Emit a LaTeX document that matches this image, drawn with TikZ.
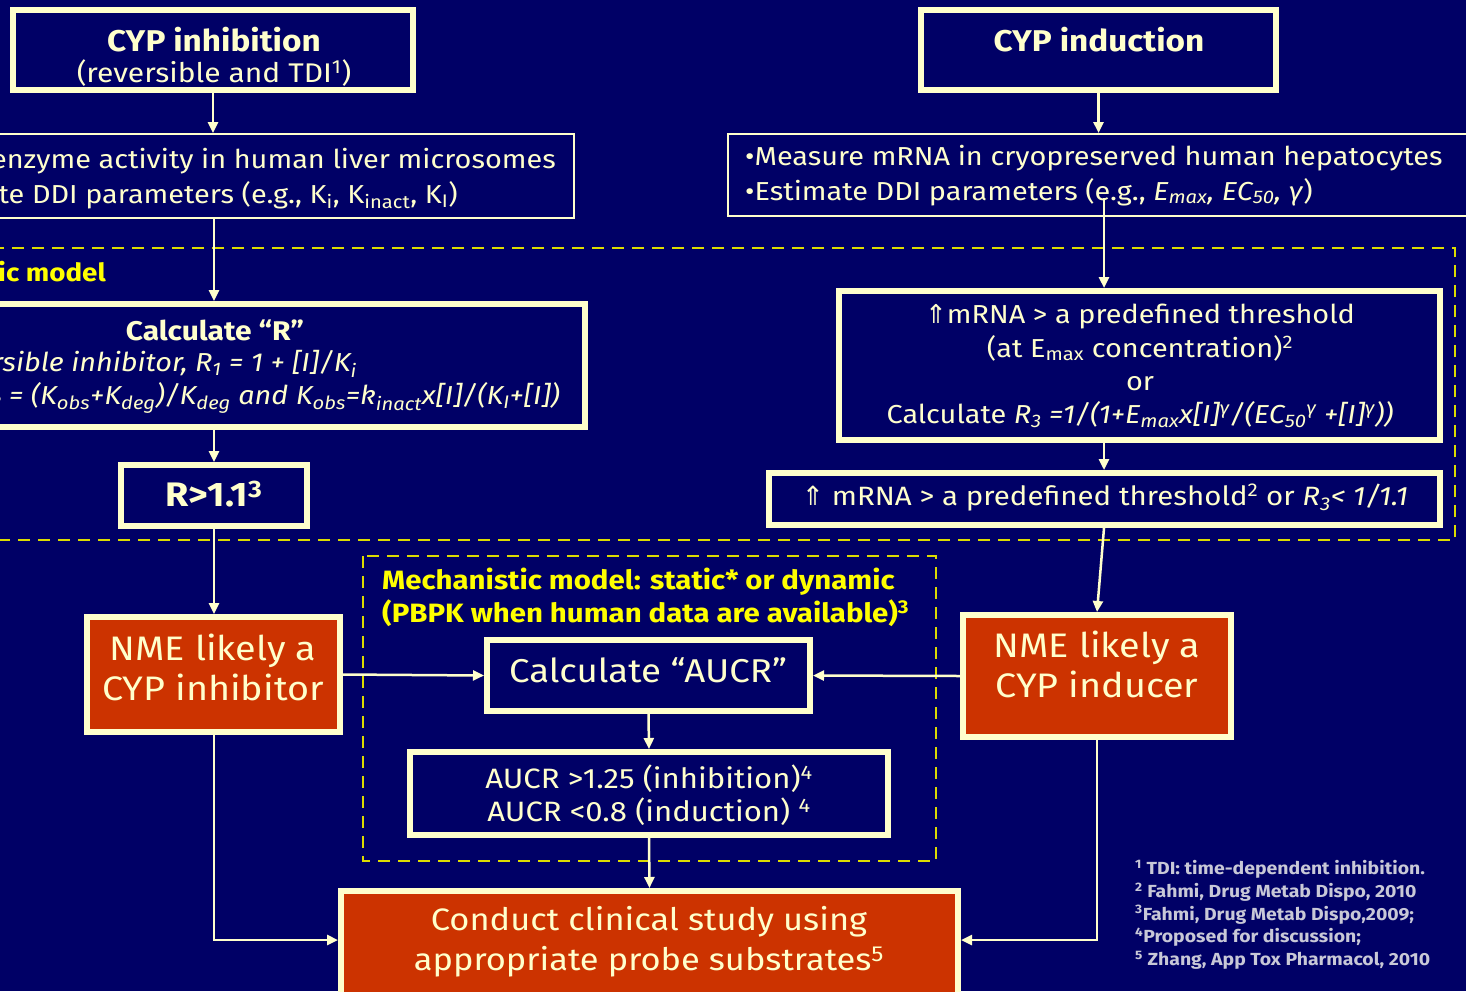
\documentclass[tikz,border=0pt]{standalone}
\usepackage{fontspec}
\setmainfont[FakeStretch=1.11]{Fira Sans}
\newfontfamily\symfont{DejaVu Sans}
\usetikzlibrary{arrows.meta}
\definecolor{navy}{RGB}{0,0,102}
\definecolor{cream}{RGB}{255,255,204}
\definecolor{brick}{RGB}{204,51,0}
\definecolor{dashyel}{RGB}{220,220,0}
\definecolor{txtyel}{RGB}{255,255,0}
\definecolor{fngray}{RGB}{200,200,215}
\newcommand\myfs[2]{\fontsize{#1}{#2}\selectfont}
\tikzset{
  thickbox/.style={draw=cream, line width=6pt, fill=navy, inner sep=0pt},
  thinbox/.style={draw=cream, line width=2pt, fill=navy, inner sep=0pt},
  redbox/.style={draw=cream, line width=6pt, fill=brick, inner sep=0pt},
  conn/.style={draw=cream, line width=2.5pt, -{Triangle[length=11pt,width=10pt]}},
  txt/.style={text=cream, inner sep=0pt, align=center},
  yeltxt/.style={text=txtyel, inner sep=0pt, align=left},
  dashframe/.style={draw=dashyel, line width=2pt, dash pattern=on 12pt off 8pt},
}
\begin{document}
\begin{tikzpicture}[x=1pt,y=-1pt]
\fill[navy] (0,0) rectangle (1466,991);
\useasboundingbox (0,0) rectangle (1466,991);
\clip (0,0) rectangle (1466,991);

% dashed frames
\draw[dashframe] (-50,248) rectangle (1455,540);
\draw[dashframe] (363,556) rectangle (936,861);

% boxes
\node[thickbox, minimum width=400pt, minimum height=80pt] (inh) at (213,50) {};
\node[thickbox, minimum width=355pt, minimum height=80pt] (ind) at (1098.5,50) {};
\node[thinbox, minimum width=671pt, minimum height=84pt] (lmeas) at (238.5,176) {};
\node[thinbox, minimum width=832pt, minimum height=82pt] (rmeas) at (1144,175) {};
\node[thickbox, minimum width=735pt, minimum height=123pt] (calcR) at (217.5,365.5) {};
\node[thickbox, minimum width=186pt, minimum height=61pt] (r11) at (214,495.5) {};
\node[thickbox, minimum width=601pt, minimum height=149pt] (mrna) at (1139.5,365.5) {};
\node[thickbox, minimum width=671pt, minimum height=52pt] (thr) at (1104.5,499) {};
\node[redbox, minimum width=253pt, minimum height=115pt] (nmeinh) at (213.5,674.5) {};
\node[thickbox, minimum width=323pt, minimum height=71pt] (aucr) at (648.5,675.5) {};
\node[thickbox, minimum width=478pt, minimum height=83pt] (aucrbox) at (649,793.5) {};
\node[redbox, minimum width=268pt, minimum height=122pt] (nmeind) at (1097,676) {};
\node[redbox, minimum width=617pt, minimum height=109pt] (conduct) at (649.5,945.5) {};

% texts
\node[txt, font=\bfseries\myfs{30}{34}] (inhT) at (214,40) {CYP inhibition};
\node[txt, font=\myfs{27}{30}] (inhS) at (214,73) {(reversible and TDI\textsuperscript{1})};
\node[txt, font=\bfseries\myfs{30}{34}] (indT) at (1099,40) {CYP induction};

\node[txt, anchor=east, font=\myfs{26}{30}] (lm1) at (556,161) {•Measure enzyme activity in human liver microsomes};
\node[txt, anchor=east, font=\myfs{26}{30}] (lm2) at (458,195) {•Estimate DDI parameters (e.g., K\textsubscript{i}, K\textsubscript{inact}, K\textsubscript{I})};
\node[txt, anchor=west, font=\myfs{26}{30}] (rm1) at (745,158) {•Measure mRNA in cryopreserved human hepatocytes};
\node[txt, anchor=west, font=\myfs{26}{30}] (rm2) at (745,192) {•Estimate DDI parameters (e.g., \textit{E\textsubscript{max}, EC\textsubscript{50}, γ})};

\node[yeltxt, anchor=east, font=\bfseries\myfs{25}{28}] (basic) at (106,272) {Basic model};

\node[txt, font=\bfseries\myfs{27}{30}] (rT) at (215,330) {Calculate “R”};
\node[txt, anchor=east, font=\itshape\myfs{26}{30}] (r2) at (357,364) {For reversible inhibitor, R\textsubscript{1} = 1 + [I]/K\textsubscript{i}};
\node[txt, anchor=east, font=\itshape\myfs{26}{30}] (r3) at (560,398) {For TDI, R\textsubscript{2} = (K\textsubscript{obs}+K\textsubscript{deg})/K\textsubscript{deg} and K\textsubscript{obs}=k\textsubscript{inact}x[I]/(K\textsubscript{I}+[I])};

\node[txt, font=\bfseries\myfs{34}{36}] (r11T) at (214,494) {R>1.1\textsuperscript{3}};

\node[txt, font=\myfs{26}{33.3}] (mrnaT) at (1140,366) {{\symfont ⇑}mRNA > a predefined threshold\\(at E\textsubscript{max} concentration)\textsuperscript{2}\\or\\Calculate \textit{R\textsubscript{3} =1/(1+E\textsubscript{max}x[I]\textsuperscript{γ}/(EC\textsubscript{50}\textsuperscript{γ} +[I]\textsuperscript{γ}))}};
\node[txt, font=\myfs{26.5}{30}] (thrT) at (1105,498) {{\symfont ⇑} mRNA > a predefined threshold\textsuperscript{2} or \textit{R\textsubscript{3}< 1/1.1}};

\node[yeltxt, anchor=west, font=\bfseries\myfs{26.5}{33}] (mech) at (382,597) {Mechanistic model: static* or dynamic\\(PBPK when human data are available)\textsuperscript{3}};

\node[txt, font=\myfs{34}{40}] (nmeinhT) at (213,667) {NME likely a\\CYP inhibitor};
\node[txt, font=\myfs{33}{34}] (aucrT) at (648,670) {Calculate “AUCR”};
\node[txt, font=\myfs{28}{33}] (aucrboxT) at (649,795) {AUCR >1.25 (inhibition)\textsuperscript{4}\\AUCR <0.8 (induction) \textsuperscript{4}};
\node[txt, font=\myfs{34}{40}] (nmeindT) at (1097,664) {NME likely a\\CYP inducer};
\node[txt, font=\myfs{31}{40}] (conductT) at (649,942) {Conduct clinical study using\\appropriate probe substrates\textsuperscript{5}};

\node[anchor=north west, text=fngray, inner sep=0pt, align=left, font=\bfseries\myfs{17.5}{22.7}] (fn) at (1135,860) {\textsuperscript{1} TDI: time-dependent inhibition.\\\textsuperscript{2} Fahmi, Drug Metab Dispo, 2010\\\textsuperscript{3}Fahmi, Drug Metab Dispo,2009;\\\textsuperscript{4}Proposed for discussion;\\\textsuperscript{5} Zhang, App Tox Pharmacol, 2010};

% connectors
\coordinate (lx) at (214,0);
\coordinate (rstart) at (1104,198);
\coordinate (by) at (0,940);
\draw[conn] (inh.south) -- (inh.south |- lmeas.north);
\draw[conn] (ind.south) -- (ind.south |- rmeas.north);
\draw[conn] (lx |- lmeas.south) -- (lx |- calcR.north);
\draw[conn] (lx |- calcR.south) -- (lx |- r11.north);
\draw[conn] (lx |- r11.south) -- (lx |- nmeinh.north);
\draw[conn] (rstart) -- (rstart |- mrna.north);
\draw[conn] (rstart |- mrna.south) -- (rstart |- thr.north);
\draw[conn] (rstart |- thr.south) -- (nmeind.north);
\draw[conn] (nmeinh.east) -- (aucr.west);
\draw[conn] (nmeind.west) -- (aucr.east);
\draw[conn] (aucr.south) -- (aucrbox.north);
\draw[conn] (aucrbox.south) -- (conduct.north);
\draw[conn] (lx |- nmeinh.south) -- (lx |- by) -- (conduct.west |- by);
\draw[conn] (nmeind.south) -- (nmeind.south |- by) -- (conduct.east |- by);
\end{tikzpicture}
\end{document}
